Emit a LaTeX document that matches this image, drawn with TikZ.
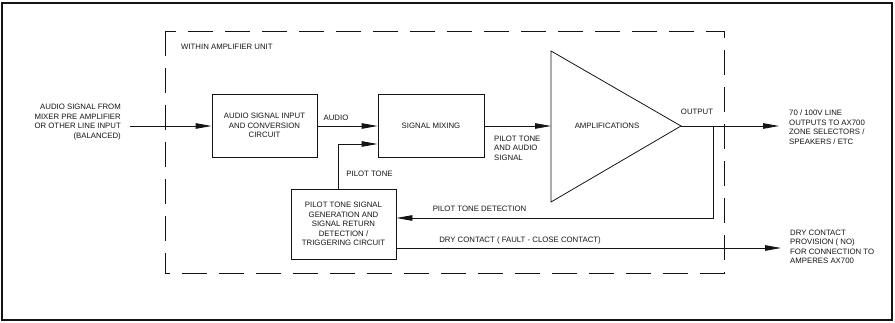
\documentclass[tikz,border=0pt]{standalone}
\usepackage{fontspec}
\setmainfont{Liberation Sans}
\usepackage{tikz}
\usetikzlibrary{calc,arrows.meta,positioning}
\definecolor{diagBlack}{RGB}{20,20,20}

\begin{document}
\begin{tikzpicture}[x=1pt,y=-1pt,
  txt/.style={font=\fontsize{7.8}{9.5}\selectfont, text=diagBlack, inner sep=0pt},
  blk/.style={draw=diagBlack, line width=0.8pt, minimum width=105pt, align=center, txt},
  sig/.style={draw=diagBlack, line width=0.8pt, -{Triangle[length=16pt,width=5.5pt]}}]
\useasboundingbox (0,0) rectangle (895,323);
\draw[diagBlack, line width=2.8pt] (2,3) rectangle (892,320);

% amplifier unit
\draw[diagBlack, line width=0.8pt, dash pattern=on 25pt off 12pt] (165,31) rectangle (724,273);
\node[txt, anchor=west] (unit) at (181,47) {WITHIN AMPLIFIER UNIT};

\node[blk, minimum height=63pt] (conv) at (264.5,125.5) {AUDIO SIGNAL INPUT\\AND CONVERSION\\CIRCUIT};
\node[blk, minimum width=106pt, minimum height=63pt] (mix) at (431,125.5) {SIGNAL MIXING};
\node[blk, minimum height=70pt] (pilot) at (343.5,224) {PILOT TONE SIGNAL\\GENERATION AND\\SIGNAL RETURN\\DETECTION /\\TRIGGERING CIRCUIT};

\coordinate (ampA) at (551,51);
\coordinate (ampB) at (551,202);
\coordinate (ampC) at (681,126);
\draw[diagBlack, line width=0.8pt] (ampA) -- (ampC) -- (ampB) -- cycle;
\node[txt] (amp) at (607,126) {AMPLIFICATIONS};

% outside texts
\node[txt, anchor=east, align=right] (src) at (121,122) {AUDIO SIGNAL FROM\\MIXER PRE AMPLIFIER\\OR OTHER LINE INPUT\\(BALANCED)};
\node[txt, anchor=west, align=left] (line) at (789,127) {70 / 100V LINE\\OUTPUTS TO AX700\\ZONE SELECTORS /\\SPEAKERS / ETC};
\node[txt, anchor=west, align=left] (dry) at (790,247) {DRY CONTACT\\PROVISION ( NO)\\FOR CONNECTION TO\\AMPERES AX700};

\coordinate (srcEnd) at (130,126);
\coordinate (lineEnd) at (779,126);
\coordinate (dryEnd) at (781,248);
\coordinate (tap) at (713,126);
\coordinate (det) at (713,218);
\coordinate (pt) at (338,144);

\draw[sig] (srcEnd) -- (conv.west |- srcEnd);
\draw[sig] (conv.east |- srcEnd) -- (mix.west |- srcEnd);
\draw[sig] (mix.east |- srcEnd) -- (ampA |- srcEnd);
\draw[sig] (pilot.north -| pt) -- (pt) -- (mix.west |- pt);
\draw[sig] (ampC) -- (lineEnd);
\draw[sig] (tap) -- (det) -- (pilot.east |- det);
\draw[sig] (pilot.east |- dryEnd) -- (dryEnd);

\node[txt] (audl) at (336,118) {AUDIO};
\node[txt, anchor=west, align=left] (ptas) at (494,148) {PILOT TONE\\AND AUDIO\\SIGNAL};
\node[txt] (ptl) at (369.5,174) {PILOT TONE};
\node[txt] (outl) at (697,112) {OUTPUT};
\node[txt] (detl) at (479.5,209) {PILOT TONE DETECTION};
\node[txt] (dryl) at (520,240) {DRY CONTACT ( FAULT - CLOSE CONTACT)};
\end{tikzpicture}
\end{document}
